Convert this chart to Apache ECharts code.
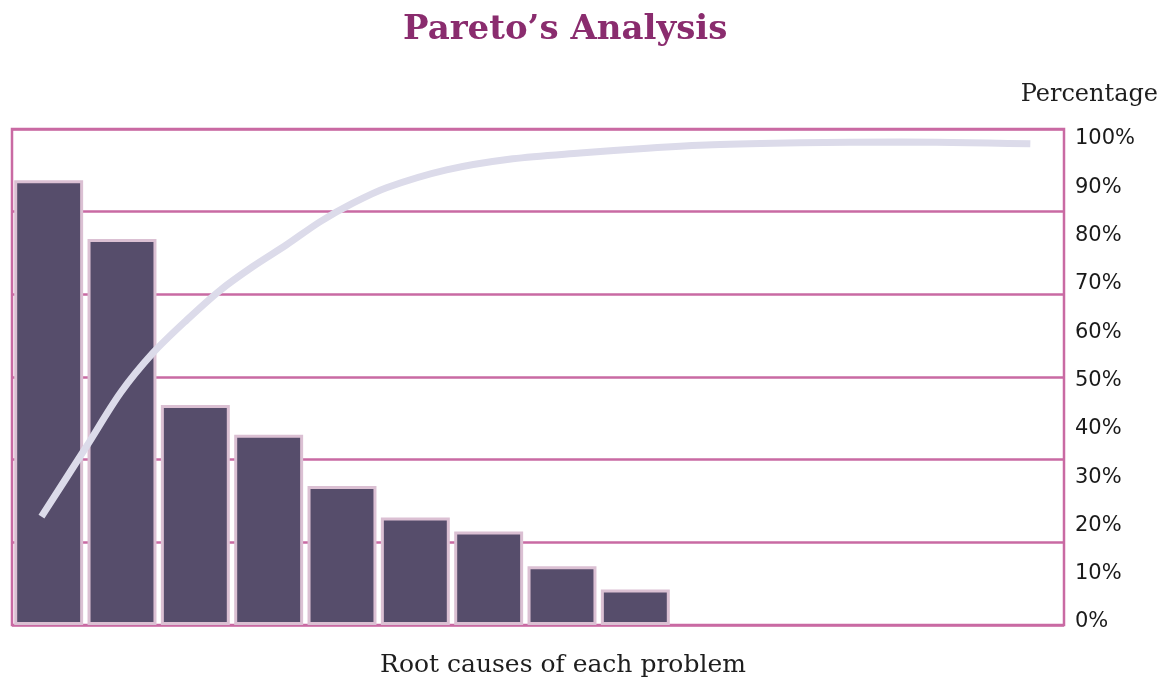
<!DOCTYPE html>
<html>
<head>
<meta charset="utf-8">
<script src="https://cdn.jsdelivr.net/npm/echarts@6/dist/echarts.min.js"></script>
<style>
html,body{margin:0;padding:0;background:#fff;}
#chart{width:1164px;height:679px;}
</style>
</head>
<body>
<div id="chart"></div>
<script>
const causes = ['Cause 1','Cause 2','Cause 3','Cause 4','Cause 5','Cause 6','Cause 7','Cause 8','Cause 9'];
const counts = [53.8, 46.7, 26.6, 23.0, 16.8, 13.0, 11.3, 7.1, 4.3];
const lineX = [2.8, 7.1, 10.3, 13.4, 16.6, 19.8, 22.9, 26.1, 29.3, 32.4, 35.6, 41.3, 47.6, 54.0, 60.4, 66.6, 74.9, 84.4, 96.8];
const linePct = [21.8, 36.4, 47.4, 55.7, 62.5, 68.7, 73.6, 78.1, 82.9, 86.7, 89.9, 93.6, 95.9, 97.1, 98.1, 98.8, 99.2, 99.4, 99.0];
const pctTicks = [0, 10, 20, 30, 40, 50, 60, 70, 80, 90, 100];

const pink = '#c96aa3';
const serif = '"DejaVu Serif", "Liberation Serif", serif';
const chart = echarts.init(document.getElementById('chart'));
chart.setOption({
  animation: false,
  backgroundColor: '#fff',
  title: [
    {text: 'Pareto\u2019s Analysis', left: 403, top: 13, padding: 0,
     textStyle: {fontFamily: serif, fontWeight: 'bold', fontSize: 34, color: '#8a2c6e'}},
    {text: 'Percentage', right: 6, top: 83, padding: 0,
     textStyle: {fontFamily: serif, fontWeight: 'normal', fontSize: 24, color: '#1e1e1e'}}
  ],
  grid: [
    {left: 12, right: 100, top: 129, bottom: 54, outerBoundsMode: 'none', containLabel: false,
     show: true, borderColor: pink, borderWidth: 2.5, backgroundColor: 'transparent'},
    {left: 12, width: 660, top: 129, bottom: 54, outerBoundsMode: 'none', containLabel: false},
    {left: 12, right: 100, top: 139, bottom: 57, outerBoundsMode: 'none', containLabel: false}
  ],
  xAxis: [
    {gridIndex: 0, type: 'value', min: 0, max: 1, axisLine: {show: false}, axisTick: {show: false},
     axisLabel: {show: false}, splitLine: {show: false},
     name: 'Root causes of each problem', nameLocation: 'middle', nameGap: 28,
     nameTextStyle: {fontFamily: serif, fontSize: 25, color: '#1e1e1e', padding: [0, 0, 0, 50]}},
    {gridIndex: 1, type: 'category', data: causes, show: false},
    {gridIndex: 2, type: 'value', min: 0, max: 100, show: false}
  ],
  yAxis: [
    {gridIndex: 0, type: 'value', min: 0, max: 60, interval: 10, axisLine: {show: false}, axisTick: {show: false},
     axisLabel: {show: false}, splitLine: {show: true, lineStyle: {color: pink, width: 2.5}}},
    {gridIndex: 1, type: 'value', min: 0, max: 60, interval: 10, show: false},
    {gridIndex: 2, type: 'value', position: 'right', min: 0, max: 100, interval: 10,
     axisLine: {show: false}, axisTick: {show: false}, splitLine: {show: false},
     axisLabel: {show: true, margin: 11, formatter: v => pctTicks.includes(v) ? v + '%' : '',
       fontFamily: '"DejaVu Sans", sans-serif', fontSize: 21, color: '#1a1a1a'}}
  ],
  series: [
    {type: 'bar', xAxisIndex: 1, yAxisIndex: 1, data: counts, barWidth: '94%', z: 3,
     itemStyle: {color: '#564d6b', borderColor: '#dbc0d3', borderWidth: 3}},
    {type: 'line', xAxisIndex: 2, yAxisIndex: 2, data: lineX.map((x, i) => [x, linePct[i]]),
     smooth: 0.3, showSymbol: false, z: 4,
     lineStyle: {color: '#dcdbea', width: 7, cap: 'butt'}}
  ]
});
</script>
</body>
</html>
